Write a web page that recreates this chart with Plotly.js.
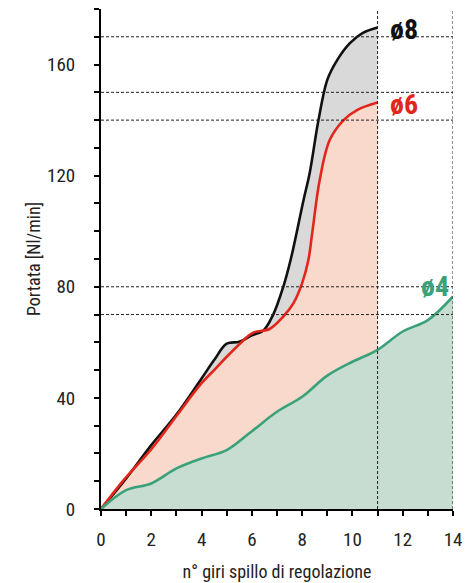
<!DOCTYPE html>
<html>
<head>
<meta charset="utf-8">
<script src="https://cdn.plot.ly/plotly-3.0.1.min.js"></script>
<style>html,body{margin:0;padding:0;background:#fff;}#chart{width:473px;height:583px;}</style>
</head>
<body>
<div id="chart"></div>
<script>
// ø8 curve
const x8 = [0, 1, 2, 3, 4, 4.5, 5, 5.5, 6, 6.45, 6.85, 7.25, 7.55, 8.05, 8.3, 8.65, 9.0, 9.4, 9.9, 10.4, 11];
const y8 = [0, 11, 23, 34, 47, 53.6, 59.5, 60.2, 62.5, 64.2, 70, 80, 90, 111, 121, 140, 154.5, 161.7, 167.7, 171.3, 173.3];
// ø6 curve
const x6 = [0, 0.9, 2, 3, 4, 4.5, 5, 5.65, 6.05, 6.7, 7.25, 7.65, 8.0, 8.25, 8.4, 8.7, 9.1, 9.65, 10.2, 11];
const y6 = [0, 10.4, 21.5, 33.5, 45.3, 50, 54.8, 60.6, 63.5, 64.8, 69.3, 74, 81.3, 89.7, 99.3, 118.5, 132.9, 140, 143.7, 146.3];
// ø4 curve
const x4 = [0, 1, 2, 3, 4, 5, 6, 7, 8, 9, 10, 11, 12, 13, 14];
const y4 = [0, 6.8, 9.2, 14.6, 18.2, 21.2, 28, 35, 40.4, 48, 53, 57.3, 63.9, 68, 76.5];
// reference lines
const hLines = [170, 150, 140, 80, 70];
const vLines = [11, 14];
const labels = [
  {text: 'ø8', x: 11.4, y: 172.5, color: '#111111'},
  {text: 'ø6', x: 11.4, y: 145.5, color: '#e3261b'},
  {text: 'ø4', x: 12.65, y: 80, color: '#3aa178'}
];

const FONT = '"Roboto Condensed", "Liberation Sans Narrow", "Arial Narrow", Roboto, sans-serif';

const traces = [
  {x: x8, y: y8, mode: 'lines', fill: 'tozeroy', fillcolor: '#d9d9d9', line: {width: 0, shape: 'spline', color: 'rgba(0,0,0,0)'}, hoverinfo: 'skip'},
  {x: x6, y: y6, mode: 'lines', fill: 'tozeroy', fillcolor: '#f9d9cb', line: {width: 0, shape: 'spline', color: 'rgba(0,0,0,0)'}, hoverinfo: 'skip'},
  {x: x4, y: y4, mode: 'lines', fill: 'tozeroy', fillcolor: '#c8ddd2', line: {width: 0, shape: 'spline', color: 'rgba(0,0,0,0)'}, hoverinfo: 'skip'},
  {x: x8, y: y8, mode: 'lines', line: {width: 2.6, shape: 'spline', color: '#111111'}},
  {x: x6, y: y6, mode: 'lines', line: {width: 2.6, shape: 'spline', color: '#e3261b'}},
  {x: x4, y: y4, mode: 'lines', line: {width: 2.6, shape: 'spline', color: '#3aa178'}}
];

const shapes = [];
hLines.forEach(v => shapes.push({type: 'line', xref: 'x', yref: 'y', x0: 0, x1: 14, y0: v, y1: v, line: {color: '#222', width: 1, dash: '3px,2px'}, layer: 'above'}));
vLines.forEach(v => shapes.push({type: 'line', xref: 'x', yref: 'y', x0: v, x1: v, y0: 0, y1: 180, line: {color: '#222', width: 1, dash: '3px,2px'}, layer: 'above'}));

const annotations = labels.map(l => ({
  text: '<b>' + l.text + '</b>', x: l.x, y: l.y, xref: 'x', yref: 'y', showarrow: false,
  xanchor: 'left', yanchor: 'middle', font: {family: FONT, size: 28, color: l.color}, bgcolor: 'rgba(0,0,0,0)'
}));

const layout = {
  width: 473, height: 583,
  margin: {l: 101, r: 20, t: 9, b: 74},
  paper_bgcolor: '#ffffff', plot_bgcolor: '#ffffff',
  showlegend: false,
  font: {family: FONT, size: 19, color: '#222'},
  xaxis: {
    range: [0, 14], showgrid: false, zeroline: false, showline: true, linecolor: '#000', linewidth: 2,
    ticks: 'outside', ticklen: 5, tickwidth: 2, tickcolor: '#000', dtick: 2, tick0: 0,
    minor: {dtick: 1, ticks: 'outside', ticklen: 5, tickwidth: 2, tickcolor: '#000', showgrid: false},
    ticklabelstandoff: 7,
    title: {text: 'n° giri spillo di regolazione', font: {family: FONT, size: 18, color: '#222'}, standoff: 16}
  },
  yaxis: {
    range: [0, 180], showgrid: false, zeroline: false, showline: true, linecolor: '#000', linewidth: 2,
    ticks: 'outside', ticklen: 5, tickwidth: 2, tickcolor: '#000', dtick: 40, tick0: 0,
    minor: {dtick: 10, ticks: 'outside', ticklen: 5, tickwidth: 2, tickcolor: '#000', showgrid: false},
    ticklabelstandoff: 15,
    title: {text: 'Portata [Nl/min]', font: {family: FONT, size: 18, color: '#222'}, standoff: 2}
  },
  shapes: shapes,
  annotations: annotations
};

Plotly.newPlot('chart', traces, layout, {displayModeBar: false, staticPlot: true});
</script>
</body>
</html>
